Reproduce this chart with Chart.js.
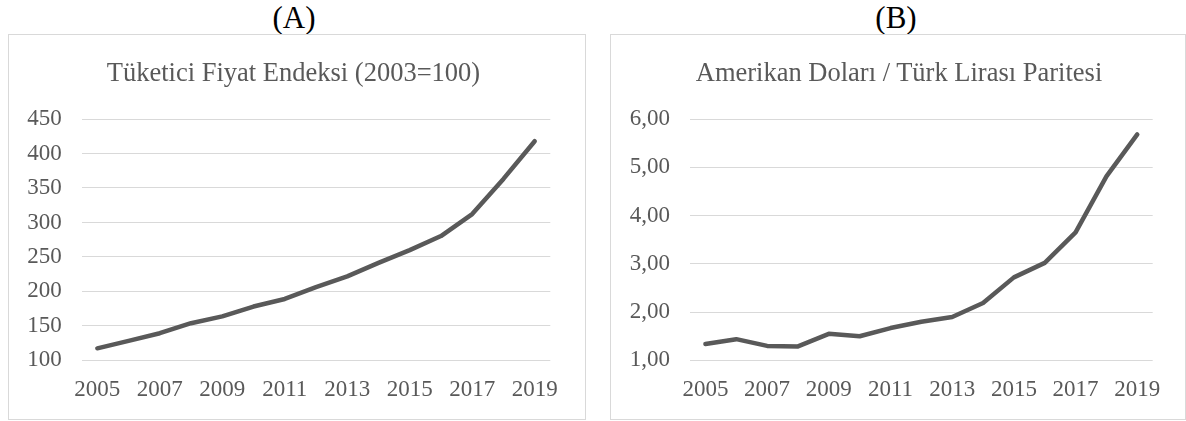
<!DOCTYPE html>
<html lang="tr">
<head>
<meta charset="utf-8">
<title>TÜFE ve USD/TRY</title>
<script src="https://cdn.jsdelivr.net/npm/chart.js@4.4.1/dist/chart.umd.min.js"></script>
<style>
  body {
    margin: 0;
    background: #ffffff;
    width: 1186px;
    height: 421px;
    position: relative;
    overflow: hidden;
    font-family: 'Liberation Serif', 'Times New Roman', serif;
  }
  .panelLabel {
    position: absolute;
    top: 2px;
    font-size: 31px;
    line-height: 31px;
    color: #000000;
    transform: translateX(-50%);
    white-space: nowrap;
  }
  .chartTitle {
    position: absolute;
    top: 56px;
    font-size: 26.5px;
    line-height: 32px;
    color: #595959;
    transform: translateX(-50%);
    white-space: nowrap;
    z-index: 2;
  }
  .chartBox {
    position: absolute;
    top: 34px;
    height: 384px;
    border: 1px solid #d9d9d9;
  }
</style>
</head>
<body>

<div class="panelLabel" style="left:294px;">(A)</div>
<div class="panelLabel" style="left:896px;">(B)</div>

<div class="chartBox" id="boxA" style="left:8px; width:576px;">
  <canvas id="cpiChart"></canvas>
</div>
<div class="chartBox" id="boxB" style="left:610px; width:574px;">
  <canvas id="usdChart"></canvas>
</div>

<div class="chartTitle" id="cpiTitle" style="left:293.5px;"></div>
<div class="chartTitle" id="usdTitle" style="left:899px;"></div>

<script>
'use strict';
//--------------------DATA

let years = ['2005', '2006', '2007', '2008', '2009', '2010', '2011', '2012',
  '2013', '2014', '2015', '2016', '2017', '2018', '2019'];

// consumer price index, yearly average (2003=100)
let cpiValues = [117.5, 128.3, 139.4, 153.9, 163.8, 178.1, 189.1, 206.2,
  221.8, 241.4, 259.9, 280.3, 312.2, 363.1, 417.8];

// USD / TRY yearly average
let usdValues = [1.34, 1.44, 1.30, 1.29, 1.55, 1.50, 1.67, 1.80,
  1.90, 2.19, 2.72, 3.02, 3.65, 4.81, 5.68];

let cpiTicks = { min: 100, max: 450, step: 50 };
let usdTicks = { min: 1, max: 6, step: 1 };

let cpiTitle = 'Tüketici Fiyat Endeksi (2003=100)';
let usdTitle = 'Amerikan Doları / Türk Lirası Paritesi';

//--------------------STYLE

const textColor = '#595959';
const lineColor = '#595959';
const gridColor = '#d9d9d9';
const serif = "'Liberation Serif', 'Times New Roman', serif";

//--------------------FUNCTIONS

// only every other year gets a label on the x axis
function oddYearLabel(value, index) {
  return index % 2 === 0 ? this.getLabelForValue(value) : '';
}

// builds one line chart; axisWidth and padRight place the plot inside the box
function makeLineChart(canvasId, values, range, formatTick, axisWidth, padRight) {
  const config = {
    type: 'line',
    data: {
      labels: years,
      datasets: [{
        data: values,
        borderColor: lineColor,
        borderWidth: 4.5,
        borderCapStyle: 'round',
        borderJoinStyle: 'round',
        pointRadius: 0,
        tension: 0,
        fill: false,
      }],
    },
    options: {
      responsive: true,
      maintainAspectRatio: false,
      animation: false,
      layout: {
        padding: { left: 0, right: padRight, top: 84, bottom: 7 },
      },
      plugins: {
        legend: { display: false },
        tooltip: { enabled: false },
        title: { display: false },
      },
      scales: {
        x: {
          type: 'category',
          offset: true,
          grid: { display: false },
          border: { display: false },
          ticks: {
            autoSkip: false,
            maxRotation: 0,
            padding: 8,
            color: textColor,
            font: { family: serif, size: 23 },
            callback: oddYearLabel,
          },
        },
        y: {
          min: range.min,
          max: range.max,
          border: { display: false },
          grid: { color: gridColor, lineWidth: 1, drawTicks: false },
          ticks: {
            stepSize: range.step,
            padding: 20,
            color: textColor,
            font: { family: serif, size: 23 },
            callback: formatTick,
          },
          afterFit: function (scale) {
            scale.width = axisWidth;
          },
        },
      },
    },
  };

  return new Chart(document.getElementById(canvasId), config);
}

//--------------------FUNCTION CALLS

document.getElementById('cpiTitle').textContent = cpiTitle;
document.getElementById('usdTitle').textContent = usdTitle;

makeLineChart('cpiChart', cpiValues, cpiTicks,
  function (v) { return v; },
  72.7, 34.7);

makeLineChart('usdChart', usdValues, usdTicks,
  function (v) { return v.toFixed(2).replace('.', ','); },
  79, 32.3);
</script>
</body>
</html>
